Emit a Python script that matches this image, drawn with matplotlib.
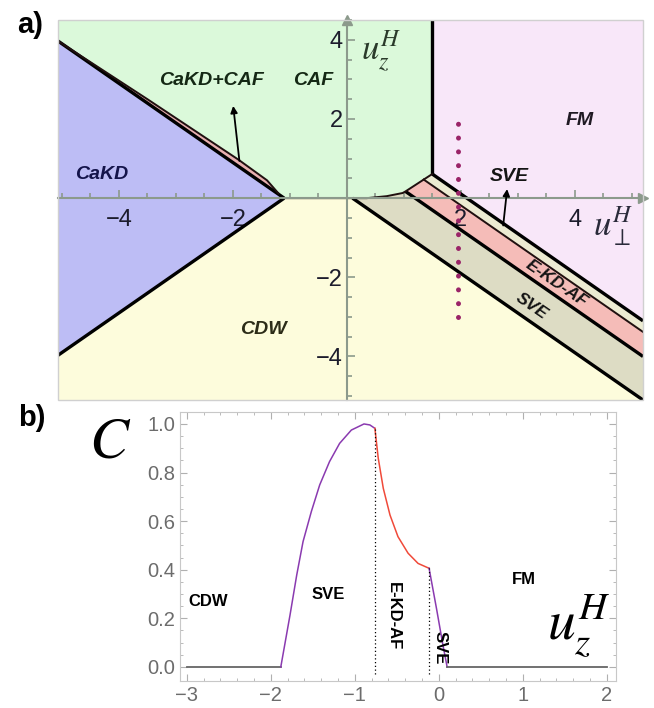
import numpy as np
import matplotlib.pyplot as plt
from matplotlib.patches import Rectangle

plt.rcParams['mathtext.fontset'] = 'stix'
plt.rcParams['font.family'] = ['Liberation Sans', 'DejaVu Sans']

# ---------------- panel a: phase diagram (u_perp, u_z) ----------------
xlim_a = (-5.07, 5.2)
ylim_a = (-5.1, 4.5)

# region polygons (u_perp, u_z)
cakd = [(-5.07, 3.97), (-1.1, 0.0), (-5.07, -3.97)]
cakd_caf = [(-5.07, 3.97), (-3.5, 2.5), (-1.9, 0.97), (-1.4, 0.45),
            (-1.2, 0.12), (-1.1, 0.0)]
caf = [(-5.07, 4.5), (1.5, 4.5), (1.5, 0.61), (1.03, 0.17), (0.98, 0.13),
       (0.7, 0.05), (0.35, 0.0), (-1.1, 0.0), (-5.07, 3.97)]
fm = [(1.5, 4.5), (5.2, 4.5), (5.2, -3.1), (1.5, 0.61)]
sve_thin = [(1.5, 0.61), (5.2, -3.1), (5.2, -3.38), (1.35, 0.47)]
ekdaf = [(1.35, 0.47), (5.2, -3.38), (5.2, -4.0), (1.03, 0.17)]
sve = [(1.03, 0.17), (5.2, -4.0), (5.2, -5.1), (0.1, 0.0), (0.35, 0.0),
       (0.7, 0.05), (0.98, 0.13)]
cdw = [(-5.07, -3.97), (-1.1, 0.0), (0.1, 0.0), (5.2, -5.1), (-5.07, -5.1)]

region_colors = {
    'cdw': '#fdfcdc', 'cakd': '#bdbdf5', 'caf': '#dbf9da', 'fm': '#f8e7f9',
    'sve': '#dddcc4', 'sve_thin': '#ecebd2', 'ekdaf': '#f5bcb8', 'cakd_caf': '#e8b0b0',
}

# phase boundaries
thick_lines = [
    [(-5.07, 3.97), (-1.1, 0.0)],
    [(-5.07, -3.97), (-1.1, 0.0)],
    [(1.5, 4.5), (1.5, 0.61)],
    [(1.5, 0.61), (5.2, -3.1)],
    [(1.03, 0.17), (5.2, -4.0)],
    [(0.1, 0.0), (5.2, -5.1)],
]
thin_lines = [
    [(1.35, 0.47), (5.2, -3.38)],
    cakd_caf[:-1],
    [(-1.1, 0.0), (0.35, 0.0), (0.7, 0.05), (0.98, 0.13), (1.03, 0.17), (1.5, 0.61)],
]

# cut shown in panel b
cut_u_perp = 1.95
cut_uz = (-3.0, 2.0)

# ---------------- panel b: C along the cut ----------------
u_cdw = [-3.0, -1.88]
c_cdw = [0.0, 0.0]
u_sve1 = [-1.88, -1.77, -1.69, -1.615, -1.516, -1.417, -1.30, -1.18, -1.04,
          -0.89, -0.82, -0.76]
c_sve1 = [0.0, 0.214, 0.379, 0.516, 0.64, 0.749, 0.845, 0.92, 0.975,
          1.0, 0.996, 0.982]
u_ekd = [-0.76, -0.72, -0.66, -0.58, -0.485, -0.365, -0.246, -0.115]
c_ekd = [0.982, 0.859, 0.735, 0.625, 0.536, 0.468, 0.426, 0.406]
u_sve2 = [-0.115, -0.027, 0.05, 0.10]
c_sve2 = [0.406, 0.241, 0.09, 0.0]
u_fm = [0.10, 2.0]
c_fm = [0.0, 0.0]
transitions = [(-0.76, 0.982), (-0.115, 0.406)]

fig = plt.figure(figsize=(6.54, 7.08), dpi=100)

# ---- panel a ----
ax = fig.add_axes([0.0887, 0.435, 0.8945, 0.5367])
for name, poly in [('cdw', cdw), ('cakd', cakd), ('caf', caf), ('fm', fm),
                   ('sve', sve), ('sve_thin', sve_thin), ('ekdaf', ekdaf),
                   ('cakd_caf', cakd_caf)]:
    xs, ys = zip(*poly)
    ax.fill(xs, ys, color=region_colors[name], lw=0, zorder=1)
for seg in thick_lines:
    xs, ys = zip(*seg)
    ax.plot(xs, ys, color='black', lw=2.4, solid_capstyle='butt', zorder=2)
for seg in thin_lines:
    xs, ys = zip(*seg)
    ax.plot(xs, ys, color='#201010', lw=1.4, zorder=2)

ax.plot([cut_u_perp, cut_u_perp], cut_uz, color='#9a2468', lw=3.6,
        linestyle=(0, (0.01, 2.75)), dash_capstyle='round', zorder=3)

ax.set_xlim(*xlim_a)
ax.set_ylim(*ylim_a)
axis_col = '#8c9a8c'
for s in ['top', 'right']:
    ax.spines[s].set_visible(False)
ax.spines['left'].set_position(('data', 0))
ax.spines['bottom'].set_position(('data', 0))
ax.spines['left'].set_color(axis_col)
ax.spines['bottom'].set_color(axis_col)
ax.spines['left'].set_linewidth(1.5)
ax.spines['bottom'].set_linewidth(1.5)
ax.set_xticks([-4, -2, 2, 4])
ax.set_xticklabels(['\u22124', '\u22122', '2', '4'])
ax.set_yticks([-4, -2, 2, 4])
ax.set_yticklabels(['\u22124', '\u22122', '2', '4'])
ax.set_xticks(np.arange(-5, 5.01, 0.5), minor=True)
ax.set_yticks(np.arange(-5, 4.51, 0.5), minor=True)
ax.tick_params(which='both', direction='in', color=axis_col, width=1.2)
ax.tick_params(which='major', length=6, labelsize=17, labelcolor='#1c1c2c')
ax.tick_params(which='minor', length=3.5)
ax.tick_params(axis='x', pad=8)
ax.tick_params(axis='y', pad=3)
ax.plot(xlim_a[1], 0, marker='>', ms=7, color=axis_col, clip_on=False, zorder=4)
ax.plot(0, ylim_a[1], marker='^', ms=7, color=axis_col, clip_on=False, zorder=4)
ax.add_patch(Rectangle((0, 0), 1, 1, transform=ax.transAxes, fill=False,
                       ec='#d0d0d0', lw=1, zorder=5, clip_on=False))

lab = dict(fontsize=14, fontweight='bold', fontstyle='italic', ha='center', va='center', zorder=6)
ax.text(-2.37, 2.97, 'CaKD+CAF', color='#142814', **lab)
ax.text(-0.6, 2.97, 'CAF', color='#142814', **lab)
ax.text(4.09, 1.96, 'FM', color='#201a24', **lab)
ax.text(-4.3, 0.61, 'CaKD', color='#14144a', **lab)
ax.text(-1.47, -3.31, 'CDW', color='#2c2c18', **lab)
ax.text(2.86, 0.55, 'SVE', color='#141414', **lab)
ax.text(3.68, -2.16, 'E-KD-AF', color='#141414', rotation=-34.5,
        **dict(lab, fontsize=12.5))
ax.text(3.25, -2.72, 'SVE', color='#141414', rotation=-34.5,
        **dict(lab, fontsize=12.5))
ax.annotate('', xy=(-2.0, 2.4), xytext=(-1.88, 0.87),
            arrowprops=dict(arrowstyle='-|>', color='black', lw=1.3, mutation_scale=10), zorder=6)
ax.annotate('', xy=(2.82, 0.3), xytext=(2.74, -0.76),
            arrowprops=dict(arrowstyle='-|>', color='black', lw=1.3, mutation_scale=10), zorder=6)
ax.text(0.6, 3.72, r'$u_z^H$', fontsize=25, color='#2a3a2a', ha='center', va='center')
ax.text(4.68, -0.72, r'$u_\perp^H$', fontsize=25, color='#2a2a3a', ha='center', va='center')

# ---- panel b ----
bx = fig.add_axes([0.2752, 0.0381, 0.6667, 0.3799])
bx.plot(u_cdw, c_cdw, color='#666666', lw=1.3)
bx.plot(u_sve1, c_sve1, color='#8a3ab0', lw=1.1)
bx.plot(u_ekd, c_ekd, color='#f04a3a', lw=1.1)
bx.plot(u_sve2, c_sve2, color='#8a3ab0', lw=1.1)
bx.plot(u_fm, c_fm, color='#666666', lw=1.3)
for ux, top in transitions:
    bx.plot([ux, ux], [-0.03, top], color='black', lw=0.9, linestyle=(0, (1, 2)))

bx.set_xlim(-3.08, 2.11)
bx.set_ylim(-0.058, 1.049)
bx.set_xticks([-3, -2, -1, 0, 1, 2])
bx.set_xticklabels(['\u22123', '\u22122', '\u22121', '0', '1', '2'])
bx.set_yticks([0, 0.2, 0.4, 0.6, 0.8, 1.0])
bx.set_yticklabels(['0.0', '0.2', '0.4', '0.6', '0.8', '1.0'])
bx.set_xticks(np.arange(-3, 2.01, 0.2), minor=True)
bx.set_yticks(np.arange(0, 1.01, 0.05), minor=True)
bx.tick_params(which='both', direction='in', color='#b0b0b0', top=True, right=True)
bx.tick_params(which='major', length=5, labelsize=14.5, labelcolor='#6c6c6c')
bx.tick_params(which='minor', length=2.5)
for s in bx.spines.values():
    s.set_color('#c8c8c8')

blab = dict(fontsize=12, fontweight='bold', ha='center', va='center', color='black')
bx.text(-2.75, 0.27, 'CDW', **blab)
bx.text(-1.32, 0.30, 'SVE', **blab)
bx.text(1.01, 0.36, 'FM', **blab)
bx.text(-0.54, 0.21, 'E-KD-AF', rotation=-90, **blab)
bx.text(0.01, 0.08, 'SVE', rotation=-90, **blab)
bx.text(1.67, 0.17, r'$u_z^H$', fontsize=40, ha='center', va='center')

fig.text(110 / 654, 1 - 443 / 708, r'$C$', fontsize=42, ha='center', va='center')
fig.text(30 / 654, 1 - 25 / 708, 'a)', fontsize=21, fontweight='bold', ha='center', va='center')
fig.text(32 / 654, 1 - 418 / 708, 'b)', fontsize=21, fontweight='bold', ha='center', va='center')

fig.savefig('out.png', dpi=100)
